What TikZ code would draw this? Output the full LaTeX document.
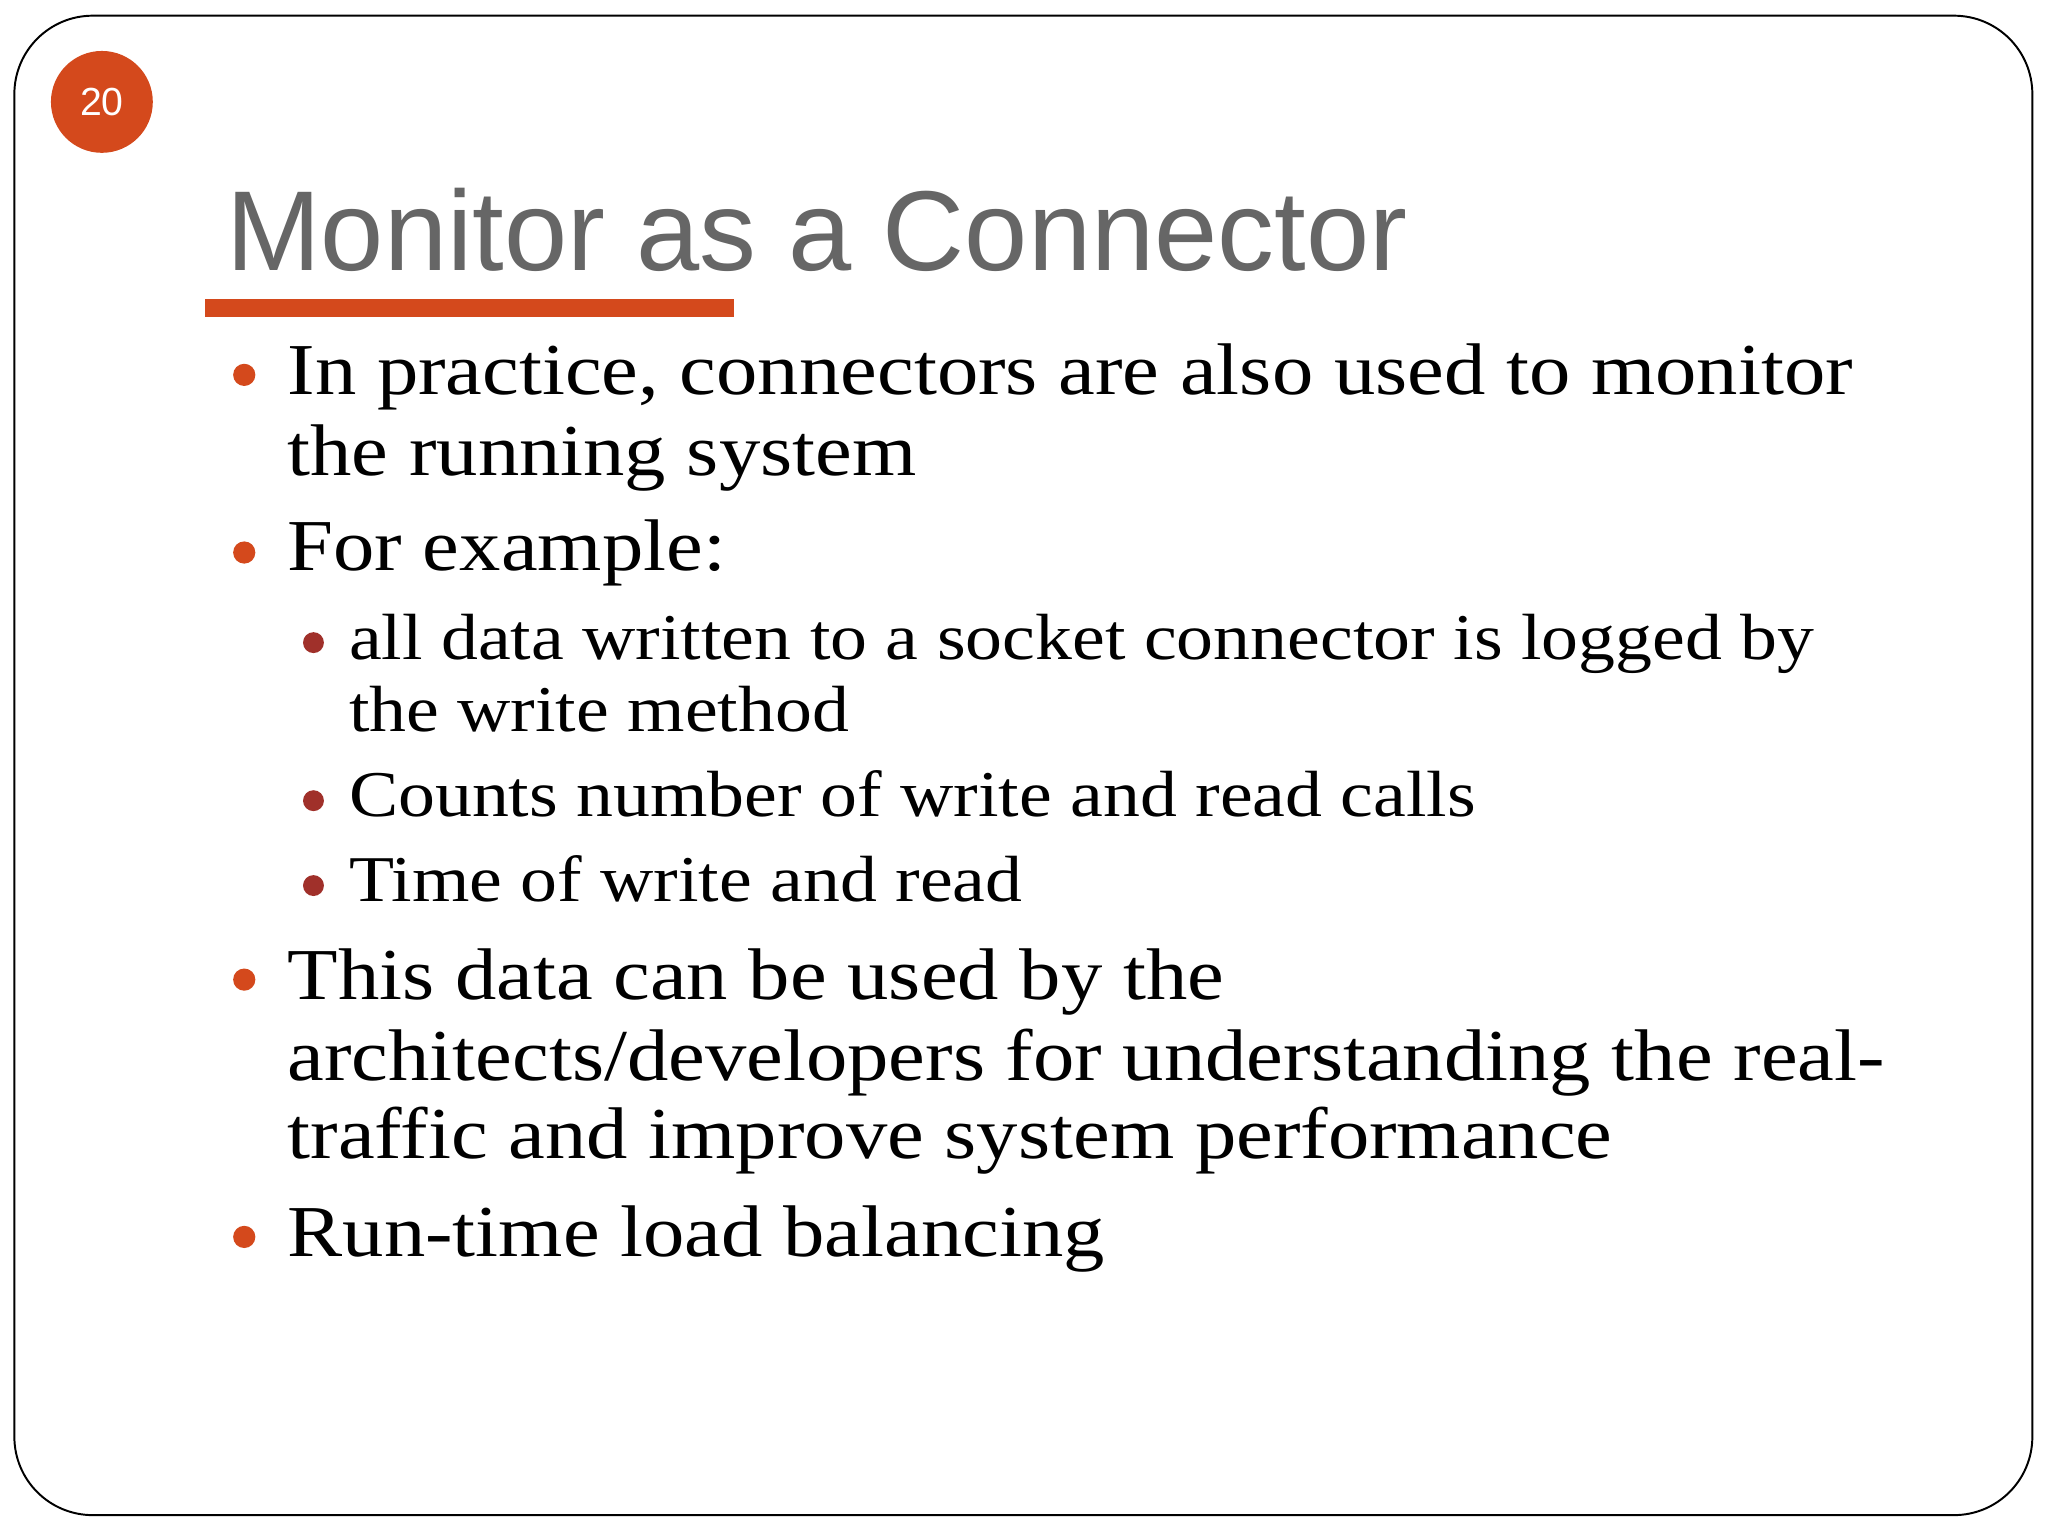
\documentclass[tikz,border=0pt]{standalone}
\usepackage{fontspec}
\setmainfont[FakeStretch=1.13]{Liberation Serif}
\newfontfamily\titlefont{Liberation Sans}
\definecolor{accent}{HTML}{D4491C}
\definecolor{subdot}{HTML}{A0302A}
\definecolor{titlegray}{HTML}{666666}
\begin{document}
\begin{tikzpicture}[x=1pt,y=-1pt,
  body/.style={anchor=base west,inner sep=0pt,font=\fontsize{56}{62}\selectfont},
  subbody/.style={anchor=base west,inner sep=0pt,font=\fontsize{50}{57}\selectfont},
  dot/.style={circle,fill=accent,inner sep=0pt,minimum size=17pt},
  subdotst/.style={circle,fill=subdot,inner sep=0pt,minimum size=16pt}]
\useasboundingbox (0,0) rectangle (1568,1176);
\fill[white] (0,0) rectangle (1568,1176);
\draw[line width=1.5pt,rounded corners=60pt] (11,12) rectangle (1556,1160);
\node[circle,fill=accent,minimum size=78pt,inner sep=0pt,text=white,font=\titlefont\fontsize{30}{34}\selectfont] (badge) at (78,78) {20};
\node[anchor=base west,inner sep=0pt,text=titlegray,font=\titlefont\fontsize{87}{100}\selectfont] (title) at (173,207) {Monitor as a Connector};
\fill[accent] (157,229) rectangle (562,243);
\node[dot] (b1) at (187,287) {};
\node[body] (t1) at (220,302) {In practice, connectors are also used to monitor};
\node[body] (t1b) at (220,364) {the running system};
\node[dot] (b2) at (187,423) {};
\node[body] (t2) at (220,437) {For example:};
\node[subdotst] (s1) at (240,492) {};
\node[subbody] (u1) at (267,505) {all data written to a socket connector is logged by};
\node[subbody] (u1b) at (267,560) {the write method};
\node[subdotst] (s2) at (240,613) {};
\node[subbody] (u2) at (267,625) {Counts number of write and read calls};
\node[subdotst] (s3) at (240,678) {};
\node[subbody] (u3) at (267,690) {Time of write and read};
\node[dot] (b3) at (187,750) {};
\node[body] (t3) at (220,765) {This data can be used by the};
\node[body] (t3b) at (220,827) {architects/developers for understanding the real-};
\node[body] (t3c) at (220,887) {traffic and improve system performance};
\node[dot] (b4) at (187,947) {};
\node[body] (t4) at (220,962) {Run-time load balancing};
\end{tikzpicture}
\end{document}
